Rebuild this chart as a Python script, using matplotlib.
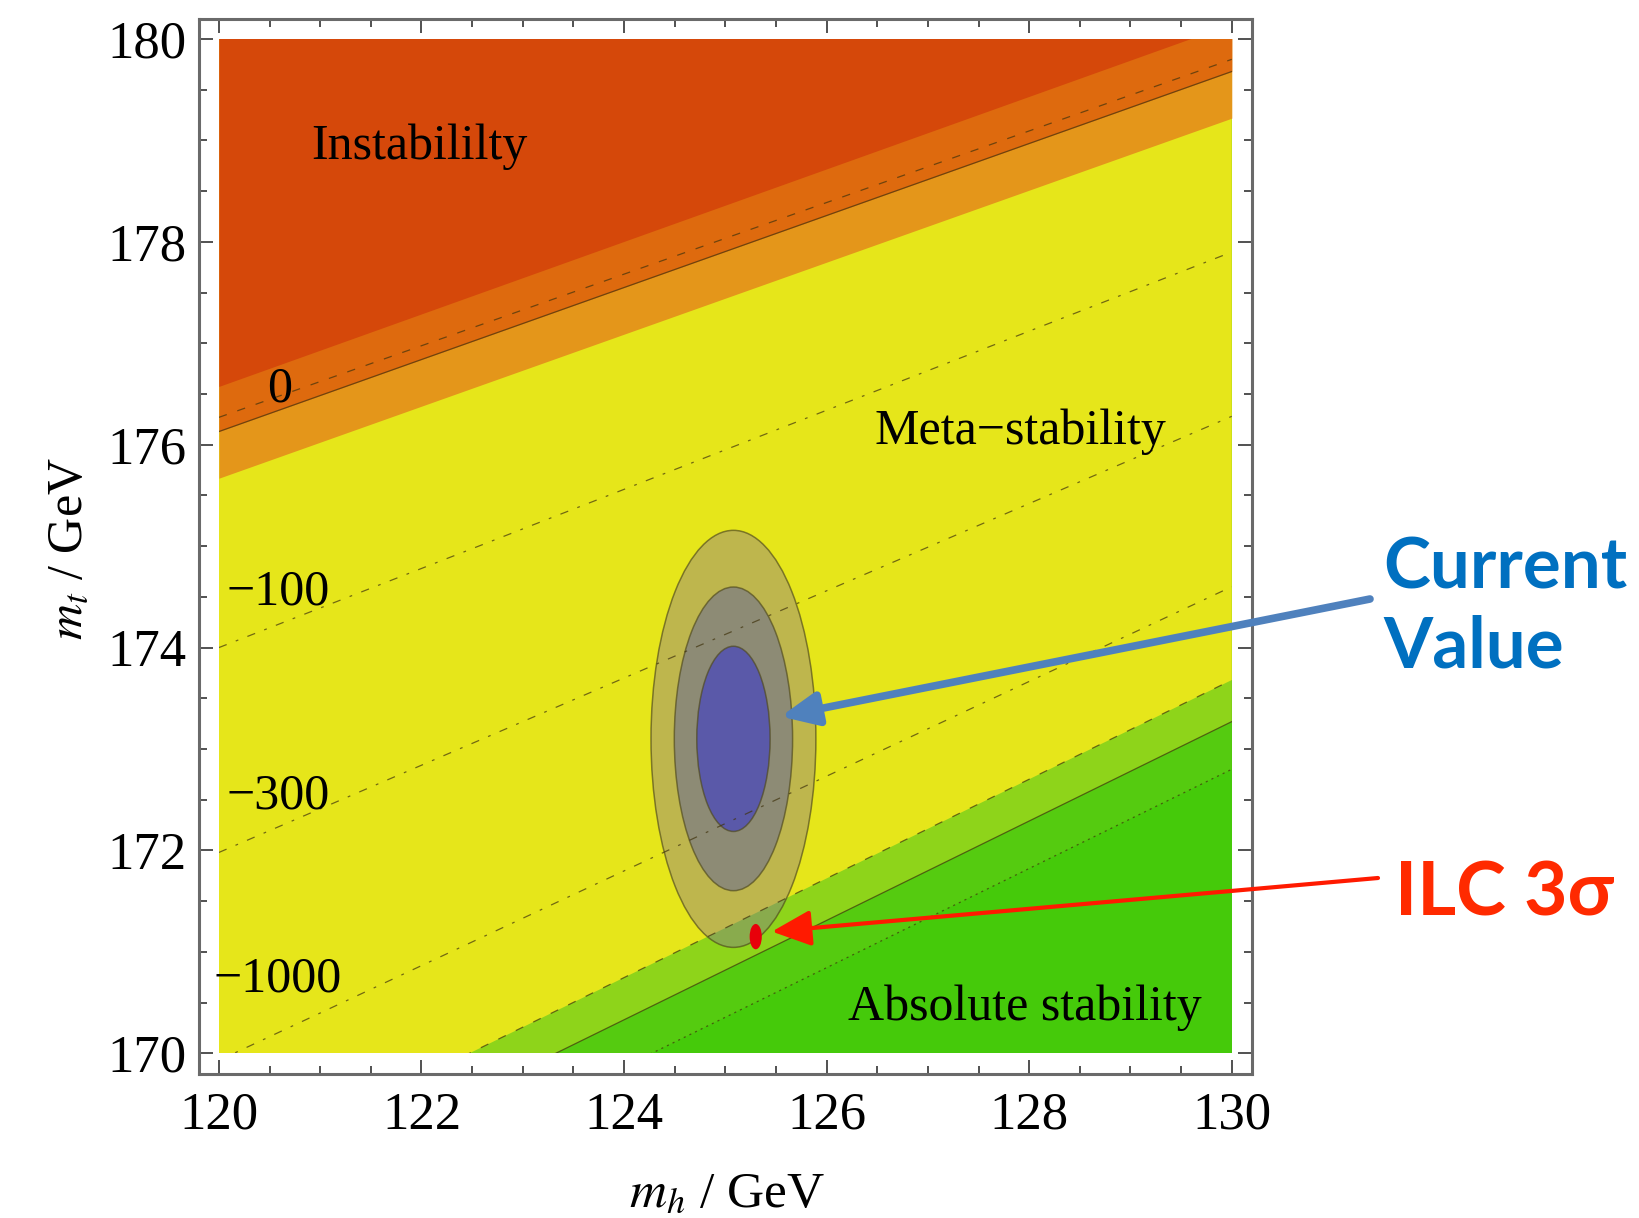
import numpy as np
import matplotlib.pyplot as plt
from matplotlib.patches import Rectangle, Ellipse
from matplotlib.ticker import MultipleLocator

plt.rcParams['mathtext.fontset'] = 'stix'
plt.rcParams['lines.scale_dashes'] = False

serif = 'Liberation Serif'

# Region boundaries: m_t (GeV) at m_h = 120 and 130 GeV
mh_ends = [120.0, 130.0]
instab_edge = [176.575, 180.15]
top_dashed = [176.27, 179.80]
top_solid = [176.13, 179.68]
meta_edge = [175.67, 179.22]
stab_dashed = [168.79, 173.68]
stab_solid = [168.37, 173.27]
stab_dotted = [167.91, 172.80]

# Lifetime contours (dot-dashed) and their labels
life_100 = [174.00, 177.90]
life_300 = [171.98, 176.28]
life_1000 = [169.93, 174.60]
contour_labels = ['0', '\u2212100', '\u2212300', '\u22121000']
label_mh = [120.48, 120.08, 120.08, 119.95]
label_mt = [176.43, 174.42, 172.41, 170.61]

# Current measurement, 1/2/3 sigma ellipses (semi-axes)
cur_mh, cur_mt = 125.08, 173.10
semi_mh = [0.362, 0.584, 0.814]
semi_mt = [0.913, 1.497, 2.056]

# ILC 3 sigma
ilc_mh, ilc_mt = 125.30, 171.15
ilc_semi_mh, ilc_semi_mt = 0.06, 0.125

fig = plt.figure(figsize=(16.39, 12.18), dpi=100)
ax = fig.add_axes([0.1212, 0.1186, 0.6427, 0.8660])
ax.set_xlim(119.8, 130.2)
ax.set_ylim(169.8, 180.2)

box = Rectangle((120, 170), 10, 10, transform=ax.transData)

# stacked fills, bottom (absolute stability) to top (instability)
layers = [
    ([160, 160], '#45CA0A'),
    (stab_dotted, '#55CB10'),
    (stab_solid, '#8ED41A'),
    (stab_dashed, '#E6E61A'),
    (meta_edge, '#E4961A'),
    (top_solid, '#DE6A0E'),
    (instab_edge, '#D5480A'),
]
for lower, col in layers:
    f = ax.fill_between(mh_ends, lower, [185, 185], color=col, lw=0, zorder=1)
    f.set_clip_path(box)

line_col = (0.25, 0.2, 0.05, 0.7)
dashdot = (0, (6, 7, 2, 7))
styles = [
    (top_dashed, (0, (6, 8))),
    (top_solid, '-'),
    (stab_dashed, (0, (6, 8))),
    (stab_solid, '-'),
    (stab_dotted, (0, (1.5, 3))),
    (life_100, dashdot),
    (life_300, dashdot),
    (life_1000, dashdot),
]
for mt, ls in styles:
    ln, = ax.plot(mh_ends, mt, color=line_col, lw=0.9, ls=ls, zorder=3)
    ln.set_clip_path(box)

# error ellipses
faces = [(130/255, 110/255, 156/255, 0.4),
         (94/255, 98/255, 158/255, 0.5),
         (73/255, 73/255, 187/255, 0.75)]
for a, b, fc in zip(semi_mh[::-1], semi_mt[::-1], faces):
    ax.add_patch(Ellipse((cur_mh, cur_mt), 2 * a, 2 * b, facecolor=fc,
                         edgecolor=(0.3, 0.28, 0.1, 0.65), lw=1.1, zorder=2))

ax.add_patch(Ellipse((ilc_mh, ilc_mt), 2 * ilc_semi_mh, 2 * ilc_semi_mt,
                     facecolor='#E8000A', edgecolor='none', zorder=4))

# region and contour labels
ax.text(120.91, 178.82, 'Instabililty', family=serif, fontsize=36, va='baseline', zorder=5)
ax.text(126.47, 176.01, 'Meta\u2212stability', family=serif, fontsize=36, va='baseline', zorder=5)
ax.text(126.21, 170.33, 'Absolute stability', family=serif, fontsize=36, va='baseline', zorder=5)
for lab, x, y in zip(contour_labels, label_mh, label_mt):
    ax.text(x, y, lab, family=serif, fontsize=36, va='baseline', zorder=5)

# frame and ticks
for sp in ax.spines.values():
    sp.set_color('#6a6a6a')
    sp.set_linewidth(2.2)
ax.xaxis.set_major_locator(MultipleLocator(2))
ax.yaxis.set_major_locator(MultipleLocator(2))
ax.xaxis.set_minor_locator(MultipleLocator(0.5))
ax.yaxis.set_minor_locator(MultipleLocator(0.5))
ax.tick_params(which='both', direction='in', top=True, right=True, color='#333333', width=1.2)
ax.tick_params(which='major', length=10)
ax.tick_params(which='minor', length=5.5)
ax.tick_params(axis='y', pad=9, labelsize=38)
ax.tick_params(axis='x', pad=13, labelsize=38)
for lab in ax.get_xticklabels() + ax.get_yticklabels():
    lab.set_family(serif)

fig.text(81.5 / 1639, 1 - 549 / 1218, r'$m_t$ / GeV', family=serif, fontsize=36,
         rotation=90, rotation_mode='anchor', ha='center', va='baseline')
fig.text(726.5 / 1639, 1 - 1207 / 1218, r'$m_h$ / GeV', family=serif, fontsize=37,
         ha='center', va='baseline')

# callouts
callout_font = ['Lato', 'Open Sans', 'DejaVu Sans']
ax.annotate('', xy=(125.547, 173.32), xytext=(1370 / 1639, 1 - 599 / 1218),
            textcoords='figure fraction', annotation_clip=False,
            arrowprops=dict(arrowstyle='-|>,head_length=1.1,head_width=0.5',
                            color='#4F81BD', lw=5.5, shrinkA=0, shrinkB=0,
                            mutation_scale=20))
ax.annotate('', xy=(125.46, 171.20), xytext=(1378 / 1639, 1 - 878 / 1218),
            textcoords='figure fraction', annotation_clip=False,
            arrowprops=dict(arrowstyle='-|>,head_length=1.2,head_width=0.55',
                            color='#FF1A00', lw=3, shrinkA=0, shrinkB=0,
                            mutation_scale=20))
fig.text(1383 / 1639, 1 - 588 / 1218, 'Current', color='#0070C0', fontsize=51,
         fontweight='bold', family=callout_font, va='baseline')
fig.text(1383 / 1639, 1 - 668 / 1218, 'Value', color='#0070C0', fontsize=51,
         fontweight='bold', family=callout_font, va='baseline')
fig.text(1395 / 1639, 1 - 915 / 1218, 'ILC 3\u03c3', color='#FF2A00', fontsize=54,
         fontweight='bold', family=callout_font, va='baseline')

fig.savefig('out.png', dpi=100, facecolor='white')
